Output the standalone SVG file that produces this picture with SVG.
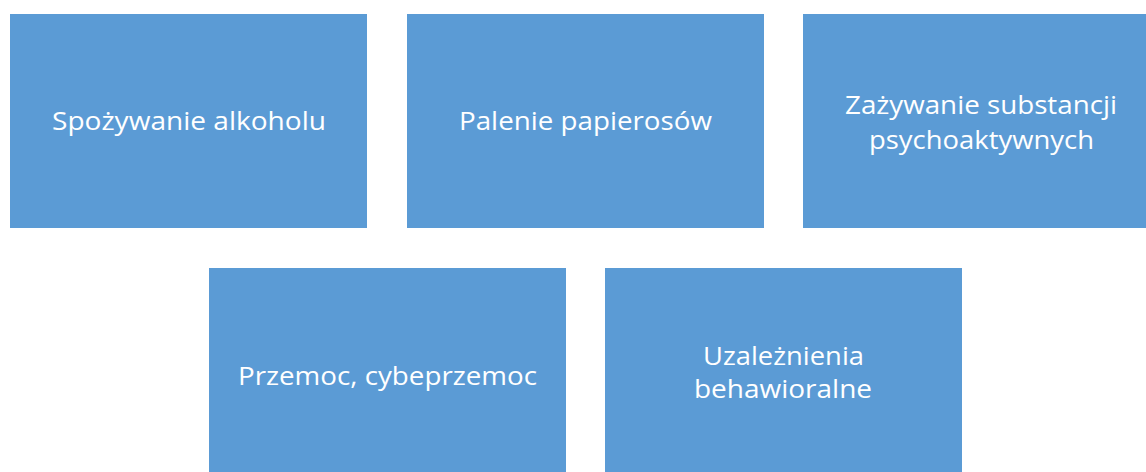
<svg xmlns="http://www.w3.org/2000/svg" width="1146" height="472" viewBox="0 0 1146 472">
<style>
.box{fill:#5B9BD5;}
.t{font-family:"Open Sans","Liberation Sans",sans-serif;font-size:26px;fill:#FFFFFF;text-anchor:middle;}
</style>
<rect width="1146" height="472" fill="#FFFFFF"/>
<g id="connectors"></g>
<g id="n1"><rect class="box" x="10" y="14" width="357" height="214"/><text class="t" x="189" y="130" textLength="274" lengthAdjust="spacingAndGlyphs">Spożywanie alkoholu</text></g>
<g id="n2"><rect class="box" x="407" y="14" width="357" height="214"/><text class="t" x="585.5" y="130" textLength="253" lengthAdjust="spacingAndGlyphs">Palenie papierosów</text></g>
<g id="n3"><rect class="box" x="803" y="14" width="357" height="214"/><text class="t" x="981" y="114" textLength="272" lengthAdjust="spacingAndGlyphs">Zażywanie substancji</text><text class="t" x="981.5" y="149" textLength="225" lengthAdjust="spacingAndGlyphs">psychoaktywnych</text></g>
<g id="n4"><rect class="box" x="209" y="268" width="357" height="214"/><text class="t" x="387.5" y="385" textLength="299" lengthAdjust="spacingAndGlyphs">Przemoc, cybeprzemoc</text></g>
<g id="n5"><rect class="box" x="605" y="268" width="357" height="214"/><text class="t" x="783.5" y="365" textLength="161" lengthAdjust="spacingAndGlyphs">Uzależnienia</text><text class="t" x="783" y="398" textLength="178" lengthAdjust="spacingAndGlyphs">behawioralne</text></g>
</svg>
